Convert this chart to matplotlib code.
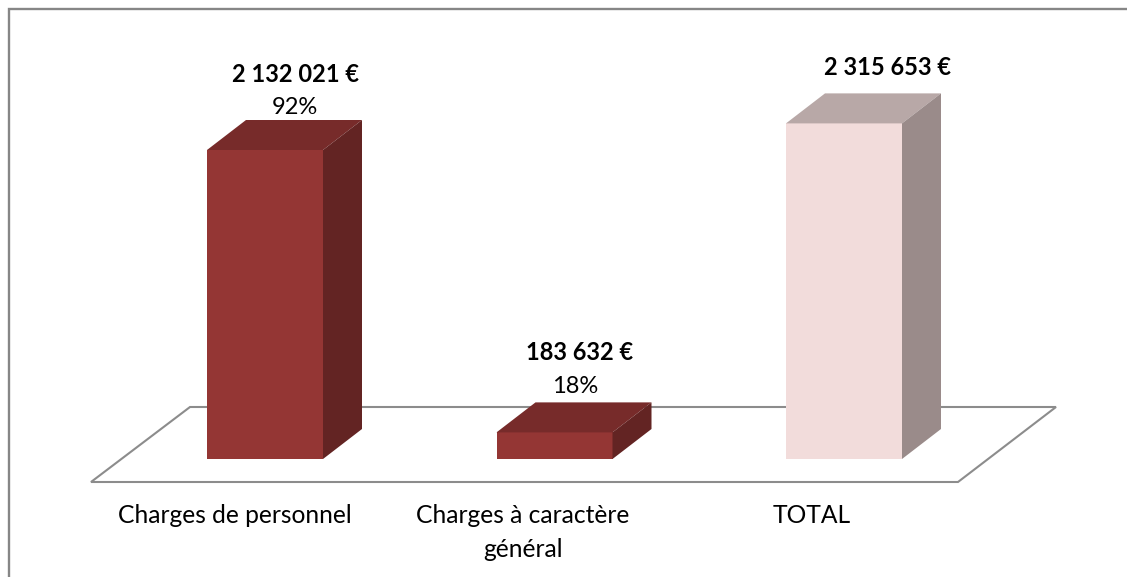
import matplotlib.pyplot as plt
from matplotlib.patches import Polygon

categories = ["Charges de personnel", "Charges à caractère\ngénéral", "TOTAL"]
values = [2132021, 183632, 2315653]
value_labels = ["2 132 021 €", "183 632 €", "2 315 653 €"]
share_labels = ["92%", "18%", ""]

W, H = 1127, 577
X0, BAR_STEP, BAR_W = 265, 289.5, 116
Y0, PX_PER_EURO = 459, 309 / 2132021
DEPTH_X, DEPTH_Y = 39, 30

# front, top, side
bar_colors = [
    ("#943634", "#772B2A", "#632423"),
    ("#943634", "#772B2A", "#632423"),
    ("#F2DCDB", "#B8A8A7", "#9A8B8A"),
]
# label centres relative to the bar centre, pixels
value_dx = [31, 25, 44]
value_dy = [76, 80, 56]
share_dx = [30, 21, 0]
share_dy = [42, 46, 0]
cat_x = [235, 523, 812]

plt.rcParams["font.family"] = ["Lato", "DejaVu Sans"]

fig = plt.figure(figsize=(W / 100, H / 100), dpi=100)
ax = fig.add_axes([0, 0, 1, 1])
ax.set_xlim(-X0 / BAR_STEP, (W - X0) / BAR_STEP)
ax.set_ylim(-(H - Y0) / PX_PER_EURO, Y0 / PX_PER_EURO)
ax.axis("off")

dx = DEPTH_X / BAR_STEP
dy = DEPTH_Y / PX_PER_EURO
half = BAR_W / BAR_STEP / 2


def px(x, y):
    # picture pixels to data units, for the frame, floor and text
    return (x - X0) / BAR_STEP, (Y0 - y) / PX_PER_EURO


# frame, open on the right like the crop of the reference
frame = [px(9, H), px(9, 9), px(W, 9)]
ax.plot(*zip(*frame), color="#868686", lw=1.7, zorder=1, solid_joinstyle="miter")

# floor of the 3D chart
floor = [px(91, 482), px(190, 407), px(1056, 407), px(958, 482)]
ax.add_patch(Polygon(floor, closed=True, fill=False, edgecolor="#8C8C8C", lw=1.5, zorder=1))

for i, val in enumerate(values):
    front, top, side = bar_colors[i]
    left, right = i - half, i + half
    ax.bar(i, val, width=2 * half, color=front, zorder=3)
    ax.add_patch(Polygon([(left, val), (right, val), (right + dx, val + dy), (left + dx, val + dy)], color=top, lw=0, zorder=3))
    ax.add_patch(Polygon([(right, 0), (right, val), (right + dx, val + dy), (right + dx, dy)], color=side, lw=0, zorder=3))

    ax.annotate(value_labels[i], (i, val), xytext=(value_dx[i] * 0.72, value_dy[i] * 0.72), textcoords="offset points",
                ha="center", va="center", fontsize=17, fontweight="bold", color="black", zorder=4)
    if share_labels[i]:
        ax.annotate(share_labels[i], (i, val), xytext=(share_dx[i] * 0.72, share_dy[i] * 0.72), textcoords="offset points",
                    ha="center", va="center", fontsize=17, color="black", zorder=4)

    ax.text(*px(cat_x[i], 504), categories[i], ha="center", va="top", fontsize=17.7, color="black", linespacing=1.6, zorder=4)

fig.savefig("out.png", dpi=100)
